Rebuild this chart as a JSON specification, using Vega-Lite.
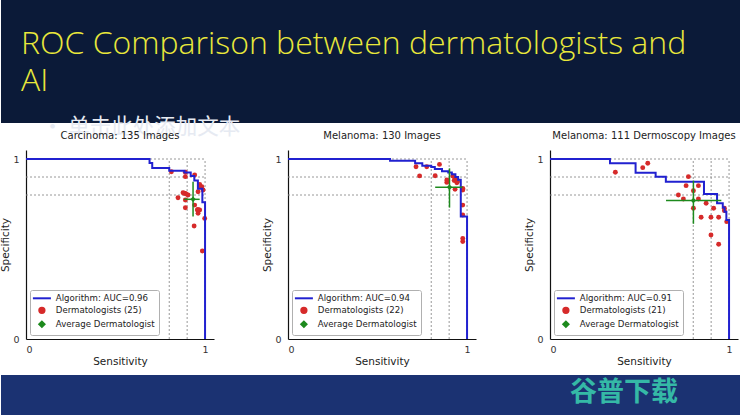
{
  "$schema": "https://vega.github.io/schema/vega-lite/v6.json",
  "background": "#ffffff",
  "padding": 0,
  "columns": 1,
  "align": "none",
  "spacing": -7,
  "config": {
    "font": "DejaVu Sans",
    "view": {"stroke": null},
    "title": {"font": "DejaVu Sans", "fontSize": 10, "fontWeight": "normal", "color": "#222222", "offset": 9, "frame": "group", "anchor": "middle"},
    "axis": {"grid": false, "ticks": false, "domainColor": "#111111", "domainWidth": 1.2, "labelFont": "DejaVu Sans", "labelFontSize": 9.5, "labelColor": "#333333", "titleFont": "DejaVu Sans", "titleFontSize": 10.5, "titleFontWeight": "normal", "titleColor": "#222222"},
    "axisX": {"labelPadding": 5, "titlePadding": 3},
    "axisY": {"labelPadding": 7, "titlePadding": 2},
    "legend": {"orient": "bottom-left", "offset": 4, "labelFont": "DejaVu Sans", "labelFontSize": 8.6, "labelColor": "#222222", "strokeColor": "#b0b0b0", "fillColor": "#ffffff", "padding": 4, "rowPadding": 0, "symbolSize": 28, "symbolOffset": 3.6, "labelOffset": 9.6, "cornerRadius": 2}
  },
  "datasets": {
    "grid": [{"v": 0.8}, {"v": 0.9}, {"v": 1.0}],
    "roc1": [
      {"i": 0, "x": 0, "y": 1}, {"i": 1, "x": 0.69, "y": 1}, {"i": 2, "x": 0.69, "y": 0.978}, {"i": 3, "x": 0.705, "y": 0.978},
      {"i": 4, "x": 0.705, "y": 0.95}, {"i": 5, "x": 0.8, "y": 0.95}, {"i": 6, "x": 0.8, "y": 0.935}, {"i": 7, "x": 0.885, "y": 0.935},
      {"i": 8, "x": 0.885, "y": 0.925}, {"i": 9, "x": 0.92, "y": 0.925}, {"i": 10, "x": 0.92, "y": 0.905}, {"i": 11, "x": 0.94, "y": 0.905},
      {"i": 12, "x": 0.94, "y": 0.88}, {"i": 13, "x": 0.96, "y": 0.88}, {"i": 14, "x": 0.96, "y": 0.835}, {"i": 15, "x": 0.985, "y": 0.835},
      {"i": 16, "x": 0.985, "y": 0.76}, {"i": 17, "x": 1.0, "y": 0.76}, {"i": 18, "x": 1.0, "y": 0}
    ],
    "dots1": [
      {"x": 0.812, "y": 0.929}, {"x": 0.89, "y": 0.926}, {"x": 0.942, "y": 0.911}, {"x": 0.89, "y": 0.902}, {"x": 0.97, "y": 0.859},
      {"x": 0.982, "y": 0.846}, {"x": 0.961, "y": 0.818}, {"x": 0.989, "y": 0.828}, {"x": 0.877, "y": 0.813}, {"x": 0.89, "y": 0.809},
      {"x": 0.905, "y": 0.8}, {"x": 0.849, "y": 0.785}, {"x": 0.89, "y": 0.772}, {"x": 0.942, "y": 0.744}, {"x": 0.89, "y": 0.729},
      {"x": 0.957, "y": 0.717}, {"x": 0.97, "y": 0.717}, {"x": 0.961, "y": 0.698}, {"x": 0.998, "y": 0.67}, {"x": 0.939, "y": 0.628},
      {"x": 0.985, "y": 0.489}, {"x": 0.882, "y": 0.81}, {"x": 0.895, "y": 0.805}, {"x": 0.97, "y": 0.85}, {"x": 0.96, "y": 0.72}
    ],
    "avg1": [{"x": 0.933, "y": 0.776, "xlo": 0.883, "xhi": 0.97, "ylo": 0.68, "yhi": 0.874}],
    "roc2": [
      {"i": 0, "x": 0, "y": 1}, {"i": 1, "x": 0.57, "y": 1}, {"i": 2, "x": 0.57, "y": 0.99}, {"i": 3, "x": 0.71, "y": 0.99},
      {"i": 4, "x": 0.71, "y": 0.976}, {"i": 5, "x": 0.75, "y": 0.976}, {"i": 6, "x": 0.75, "y": 0.963}, {"i": 7, "x": 0.8, "y": 0.963},
      {"i": 8, "x": 0.8, "y": 0.955}, {"i": 9, "x": 0.82, "y": 0.955}, {"i": 10, "x": 0.82, "y": 0.945}, {"i": 11, "x": 0.86, "y": 0.945},
      {"i": 12, "x": 0.86, "y": 0.932}, {"i": 13, "x": 0.895, "y": 0.932}, {"i": 14, "x": 0.895, "y": 0.925}, {"i": 15, "x": 0.915, "y": 0.925},
      {"i": 16, "x": 0.915, "y": 0.915}, {"i": 17, "x": 0.935, "y": 0.915}, {"i": 18, "x": 0.935, "y": 0.9}, {"i": 19, "x": 0.95, "y": 0.9},
      {"i": 20, "x": 0.95, "y": 0.885}, {"i": 21, "x": 0.965, "y": 0.885}, {"i": 22, "x": 0.965, "y": 0.68}, {"i": 23, "x": 1.0, "y": 0.68},
      {"i": 24, "x": 1.0, "y": 0}
    ],
    "dots2": [
      {"x": 0.715, "y": 0.957}, {"x": 0.775, "y": 0.957}, {"x": 0.846, "y": 0.97}, {"x": 0.735, "y": 0.906}, {"x": 0.822, "y": 0.907},
      {"x": 0.887, "y": 0.883}, {"x": 0.887, "y": 0.87}, {"x": 0.92, "y": 0.905}, {"x": 0.933, "y": 0.893}, {"x": 0.946, "y": 0.874},
      {"x": 0.933, "y": 0.832}, {"x": 0.976, "y": 0.837}, {"x": 0.976, "y": 0.828}, {"x": 0.976, "y": 0.744}, {"x": 0.976, "y": 0.689},
      {"x": 0.976, "y": 0.559}, {"x": 0.976, "y": 0.541}, {"x": 0.928, "y": 0.88}, {"x": 0.943, "y": 0.868}, {"x": 0.89, "y": 0.88},
      {"x": 0.976, "y": 0.83}, {"x": 0.945, "y": 0.875}
    ],
    "avg2": [{"x": 0.902, "y": 0.843, "xlo": 0.822, "xhi": 0.975, "ylo": 0.73, "yhi": 0.948}],
    "roc3": [
      {"i": 0, "x": 0, "y": 1}, {"i": 1, "x": 0.335, "y": 1}, {"i": 2, "x": 0.335, "y": 0.976}, {"i": 3, "x": 0.478, "y": 0.976},
      {"i": 4, "x": 0.478, "y": 0.924}, {"i": 5, "x": 0.59, "y": 0.924}, {"i": 6, "x": 0.59, "y": 0.902}, {"i": 7, "x": 0.647, "y": 0.902},
      {"i": 8, "x": 0.647, "y": 0.874}, {"i": 9, "x": 0.86, "y": 0.874}, {"i": 10, "x": 0.86, "y": 0.805}, {"i": 11, "x": 0.933, "y": 0.805},
      {"i": 12, "x": 0.933, "y": 0.754}, {"i": 13, "x": 0.965, "y": 0.754}, {"i": 14, "x": 0.965, "y": 0.73}, {"i": 15, "x": 0.975, "y": 0.73},
      {"i": 16, "x": 0.975, "y": 0.707}, {"i": 17, "x": 0.985, "y": 0.707}, {"i": 18, "x": 0.985, "y": 0.661}, {"i": 19, "x": 1.0, "y": 0.661},
      {"i": 20, "x": 1.0, "y": 0}
    ],
    "dots3": [
      {"x": 0.365, "y": 0.926}, {"x": 0.518, "y": 0.952}, {"x": 0.546, "y": 0.976}, {"x": 0.773, "y": 0.902}, {"x": 0.76, "y": 0.852},
      {"x": 0.829, "y": 0.852}, {"x": 0.801, "y": 0.824}, {"x": 0.717, "y": 0.8}, {"x": 0.745, "y": 0.778}, {"x": 0.829, "y": 0.778},
      {"x": 0.801, "y": 0.726}, {"x": 0.872, "y": 0.754}, {"x": 0.914, "y": 0.726}, {"x": 0.974, "y": 0.726}, {"x": 0.844, "y": 0.676},
      {"x": 0.899, "y": 0.676}, {"x": 0.942, "y": 0.676}, {"x": 0.899, "y": 0.578}, {"x": 0.942, "y": 0.526}, {"x": 0.987, "y": 0.652},
      {"x": 0.974, "y": 0.713}
    ],
    "avg3": [{"x": 0.801, "y": 0.77, "xlo": 0.648, "xhi": 0.957, "ylo": 0.64, "yhi": 0.88}]
  },
  "concat": [
    {
      "width": 740,
      "height": 123,
      "view": {"fill": "#0b1a38", "stroke": null},
      "title": {
        "text": ["ROC Comparison between dermatologists and", "AI"],
        "subtitle": "\u2800\u00a0• 单击此处添加文本",
        "anchor": "start", "frame": "group", "orient": "top", "offset": -139, "dx": 20,
        "font": "Open Sans", "fontSize": 32, "fontWeight": 300, "color": "#e9e83b", "lineHeight": 37,
        "subtitleFont": "Noto Sans CJK SC", "subtitleFontSize": 21.5, "subtitleColor": "#e6eaf2", "subtitlePadding": 19
      },
      "data": {"values": []},
      "mark": "point",
      "encoding": {}
    },
    {
      "columns": 1,
      "align": "none",
      "spacing": 8,
      "concat": [
        {
          "spacing": -2,
          "hconcat": [
            {"width": 1, "height": 1, "data": {"values": []}, "mark": "point", "encoding": {}},
            {
              "spacing": 48,
              "resolve": {"scale": {"color": "independent", "x": "independent", "y": "independent"}, "legend": {"color": "independent"}},
              "hconcat": [
                {
                  "width": 188, "height": 189,
                  "title": "Carcinoma: 135 Images",
                  "layer": [
                    {"data": {"name": "grid"}, "mark": {"type": "rule", "strokeDash": [2, 2], "color": "#8c8c8c", "strokeWidth": 0.9},
                     "encoding": {"x": {"field": "v", "type": "quantitative", "title": "Sensitivity", "scale": {"domain": [0, 1.05], "nice": false, "zero": false}, "axis": {"values": [0, 1], "format": "d"}},
                                  "y": {"datum": 0, "type": "quantitative", "title": "Specificity", "scale": {"domain": [0, 1.05], "nice": false, "zero": false}, "axis": {"values": [0, 1], "format": "d"}},
                                  "y2": {"datum": 1}}},
                    {"data": {"name": "grid"}, "mark": {"type": "rule", "strokeDash": [2, 2], "color": "#8c8c8c", "strokeWidth": 0.9},
                     "encoding": {"y": {"field": "v", "type": "quantitative", "title": "Specificity"},
                                  "x": {"datum": 0, "type": "quantitative", "title": "Sensitivity"},
                                  "x2": {"datum": 1}}},
                    {"data": {"name": "dots1"}, "mark": {"type": "circle", "size": 24, "opacity": 1},
                     "encoding": {"x": {"field": "x", "type": "quantitative", "title": "Sensitivity"}, "y": {"field": "y", "type": "quantitative", "title": "Specificity"},
                                  "color": {"datum": "Dermatologists (25)", "type": "nominal",
                                            "scale": {"domain": ["Algorithm: AUC=0.96", "Dermatologists (25)", "Average Dermatologist"], "range": ["#2121d0", "#d62a2a", "#1d8a1d"]},
                                            "legend": {"title": null, "encode": {"symbols": {"update": {
                                              "shape": {"signal": "['M-3.4,0H3.4','circle','diamond'][datum.index]"},
                                              "fill": {"signal": "['transparent','#d62a2a','#1d8a1d'][datum.index]"},
                                              "stroke": {"signal": "['#2121d0','transparent','transparent'][datum.index]"},
                                              "strokeWidth": {"value": 2}, "opacity": {"value": 1}}}}}}}},
                    {"data": {"name": "roc1"}, "mark": {"type": "line", "strokeWidth": 2},
                     "encoding": {"x": {"field": "x", "type": "quantitative", "title": "Sensitivity"}, "y": {"field": "y", "type": "quantitative", "title": "Specificity"},
                                  "order": {"field": "i", "type": "quantitative"},
                                  "color": {"datum": "Algorithm: AUC=0.96", "type": "nominal",
                                            "legend": {"title": null, "encode": {"symbols": {"update": {
                                              "shape": {"signal": "['M-3.4,0H3.4','circle','diamond'][datum.index]"},
                                              "fill": {"signal": "['transparent','#d62a2a','#1d8a1d'][datum.index]"},
                                              "stroke": {"signal": "['#2121d0','transparent','transparent'][datum.index]"},
                                              "strokeWidth": {"value": 2}, "opacity": {"value": 1}}}}}}}},
                    {"data": {"name": "avg1"}, "mark": {"type": "rule", "color": "#1d8a1d", "strokeWidth": 1.5},
                     "encoding": {"x": {"field": "xlo", "type": "quantitative", "title": "Sensitivity"}, "x2": {"field": "xhi"}, "y": {"field": "y", "type": "quantitative", "title": "Specificity"}}},
                    {"data": {"name": "avg1"}, "mark": {"type": "rule", "color": "#1d8a1d", "strokeWidth": 1.5},
                     "encoding": {"x": {"field": "x", "type": "quantitative", "title": "Sensitivity"}, "y": {"field": "ylo", "type": "quantitative", "title": "Specificity"}, "y2": {"field": "yhi"}}},
                    {"data": {"name": "avg1"}, "mark": {"type": "point", "shape": "diamond", "filled": true, "size": 30, "opacity": 1},
                     "encoding": {"x": {"field": "x", "type": "quantitative", "title": "Sensitivity"}, "y": {"field": "y", "type": "quantitative", "title": "Specificity"},
                                  "color": {"datum": "Average Dermatologist", "type": "nominal",
                                            "legend": {"title": null, "encode": {"symbols": {"update": {
                                              "shape": {"signal": "['M-3.4,0H3.4','circle','diamond'][datum.index]"},
                                              "fill": {"signal": "['transparent','#d62a2a','#1d8a1d'][datum.index]"},
                                              "stroke": {"signal": "['#2121d0','transparent','transparent'][datum.index]"},
                                              "strokeWidth": {"value": 2}, "opacity": {"value": 1}}}}}}}}
                  ]
                },
                {
                  "width": 188, "height": 189,
                  "title": "Melanoma: 130 Images",
                  "layer": [
                    {"data": {"name": "grid"}, "mark": {"type": "rule", "strokeDash": [2, 2], "color": "#8c8c8c", "strokeWidth": 0.9},
                     "encoding": {"x": {"field": "v", "type": "quantitative", "title": "Sensitivity", "scale": {"domain": [0, 1.05], "nice": false, "zero": false}, "axis": {"values": [0, 1], "format": "d"}},
                                  "y": {"datum": 0, "type": "quantitative", "title": "Specificity", "scale": {"domain": [0, 1.05], "nice": false, "zero": false}, "axis": {"values": [0, 1], "format": "d"}},
                                  "y2": {"datum": 1}}},
                    {"data": {"name": "grid"}, "mark": {"type": "rule", "strokeDash": [2, 2], "color": "#8c8c8c", "strokeWidth": 0.9},
                     "encoding": {"y": {"field": "v", "type": "quantitative", "title": "Specificity"},
                                  "x": {"datum": 0, "type": "quantitative", "title": "Sensitivity"},
                                  "x2": {"datum": 1}}},
                    {"data": {"name": "dots2"}, "mark": {"type": "circle", "size": 24, "opacity": 1},
                     "encoding": {"x": {"field": "x", "type": "quantitative", "title": "Sensitivity"}, "y": {"field": "y", "type": "quantitative", "title": "Specificity"},
                                  "color": {"datum": "Dermatologists (22)", "type": "nominal",
                                            "scale": {"domain": ["Algorithm: AUC=0.94", "Dermatologists (22)", "Average Dermatologist"], "range": ["#2121d0", "#d62a2a", "#1d8a1d"]},
                                            "legend": {"title": null, "encode": {"symbols": {"update": {
                                              "shape": {"signal": "['M-3.4,0H3.4','circle','diamond'][datum.index]"},
                                              "fill": {"signal": "['transparent','#d62a2a','#1d8a1d'][datum.index]"},
                                              "stroke": {"signal": "['#2121d0','transparent','transparent'][datum.index]"},
                                              "strokeWidth": {"value": 2}, "opacity": {"value": 1}}}}}}}},
                    {"data": {"name": "roc2"}, "mark": {"type": "line", "strokeWidth": 2},
                     "encoding": {"x": {"field": "x", "type": "quantitative", "title": "Sensitivity"}, "y": {"field": "y", "type": "quantitative", "title": "Specificity"},
                                  "order": {"field": "i", "type": "quantitative"},
                                  "color": {"datum": "Algorithm: AUC=0.94", "type": "nominal",
                                            "legend": {"title": null, "encode": {"symbols": {"update": {
                                              "shape": {"signal": "['M-3.4,0H3.4','circle','diamond'][datum.index]"},
                                              "fill": {"signal": "['transparent','#d62a2a','#1d8a1d'][datum.index]"},
                                              "stroke": {"signal": "['#2121d0','transparent','transparent'][datum.index]"},
                                              "strokeWidth": {"value": 2}, "opacity": {"value": 1}}}}}}}},
                    {"data": {"name": "avg2"}, "mark": {"type": "rule", "color": "#1d8a1d", "strokeWidth": 1.5},
                     "encoding": {"x": {"field": "xlo", "type": "quantitative", "title": "Sensitivity"}, "x2": {"field": "xhi"}, "y": {"field": "y", "type": "quantitative", "title": "Specificity"}}},
                    {"data": {"name": "avg2"}, "mark": {"type": "rule", "color": "#1d8a1d", "strokeWidth": 1.5},
                     "encoding": {"x": {"field": "x", "type": "quantitative", "title": "Sensitivity"}, "y": {"field": "ylo", "type": "quantitative", "title": "Specificity"}, "y2": {"field": "yhi"}}},
                    {"data": {"name": "avg2"}, "mark": {"type": "point", "shape": "diamond", "filled": true, "size": 30, "opacity": 1},
                     "encoding": {"x": {"field": "x", "type": "quantitative", "title": "Sensitivity"}, "y": {"field": "y", "type": "quantitative", "title": "Specificity"},
                                  "color": {"datum": "Average Dermatologist", "type": "nominal",
                                            "legend": {"title": null, "encode": {"symbols": {"update": {
                                              "shape": {"signal": "['M-3.4,0H3.4','circle','diamond'][datum.index]"},
                                              "fill": {"signal": "['transparent','#d62a2a','#1d8a1d'][datum.index]"},
                                              "stroke": {"signal": "['#2121d0','transparent','transparent'][datum.index]"},
                                              "strokeWidth": {"value": 2}, "opacity": {"value": 1}}}}}}}}
                  ]
                },
                {
                  "width": 188, "height": 189,
                  "title": "Melanoma: 111 Dermoscopy Images",
                  "layer": [
                    {"data": {"name": "grid"}, "mark": {"type": "rule", "strokeDash": [2, 2], "color": "#8c8c8c", "strokeWidth": 0.9},
                     "encoding": {"x": {"field": "v", "type": "quantitative", "title": "Sensitivity", "scale": {"domain": [0, 1.05], "nice": false, "zero": false}, "axis": {"values": [0, 1], "format": "d"}},
                                  "y": {"datum": 0, "type": "quantitative", "title": "Specificity", "scale": {"domain": [0, 1.05], "nice": false, "zero": false}, "axis": {"values": [0, 1], "format": "d"}},
                                  "y2": {"datum": 1}}},
                    {"data": {"name": "grid"}, "mark": {"type": "rule", "strokeDash": [2, 2], "color": "#8c8c8c", "strokeWidth": 0.9},
                     "encoding": {"y": {"field": "v", "type": "quantitative", "title": "Specificity"},
                                  "x": {"datum": 0, "type": "quantitative", "title": "Sensitivity"},
                                  "x2": {"datum": 1}}},
                    {"data": {"name": "dots3"}, "mark": {"type": "circle", "size": 24, "opacity": 1},
                     "encoding": {"x": {"field": "x", "type": "quantitative", "title": "Sensitivity"}, "y": {"field": "y", "type": "quantitative", "title": "Specificity"},
                                  "color": {"datum": "Dermatologists (21)", "type": "nominal",
                                            "scale": {"domain": ["Algorithm: AUC=0.91", "Dermatologists (21)", "Average Dermatologist"], "range": ["#2121d0", "#d62a2a", "#1d8a1d"]},
                                            "legend": {"title": null, "encode": {"symbols": {"update": {
                                              "shape": {"signal": "['M-3.4,0H3.4','circle','diamond'][datum.index]"},
                                              "fill": {"signal": "['transparent','#d62a2a','#1d8a1d'][datum.index]"},
                                              "stroke": {"signal": "['#2121d0','transparent','transparent'][datum.index]"},
                                              "strokeWidth": {"value": 2}, "opacity": {"value": 1}}}}}}}},
                    {"data": {"name": "roc3"}, "mark": {"type": "line", "strokeWidth": 2},
                     "encoding": {"x": {"field": "x", "type": "quantitative", "title": "Sensitivity"}, "y": {"field": "y", "type": "quantitative", "title": "Specificity"},
                                  "order": {"field": "i", "type": "quantitative"},
                                  "color": {"datum": "Algorithm: AUC=0.91", "type": "nominal",
                                            "legend": {"title": null, "encode": {"symbols": {"update": {
                                              "shape": {"signal": "['M-3.4,0H3.4','circle','diamond'][datum.index]"},
                                              "fill": {"signal": "['transparent','#d62a2a','#1d8a1d'][datum.index]"},
                                              "stroke": {"signal": "['#2121d0','transparent','transparent'][datum.index]"},
                                              "strokeWidth": {"value": 2}, "opacity": {"value": 1}}}}}}}},
                    {"data": {"name": "avg3"}, "mark": {"type": "rule", "color": "#1d8a1d", "strokeWidth": 1.5},
                     "encoding": {"x": {"field": "xlo", "type": "quantitative", "title": "Sensitivity"}, "x2": {"field": "xhi"}, "y": {"field": "y", "type": "quantitative", "title": "Specificity"}}},
                    {"data": {"name": "avg3"}, "mark": {"type": "rule", "color": "#1d8a1d", "strokeWidth": 1.5},
                     "encoding": {"x": {"field": "x", "type": "quantitative", "title": "Sensitivity"}, "y": {"field": "ylo", "type": "quantitative", "title": "Specificity"}, "y2": {"field": "yhi"}}},
                    {"data": {"name": "avg3"}, "mark": {"type": "point", "shape": "diamond", "filled": true, "size": 30, "opacity": 1},
                     "encoding": {"x": {"field": "x", "type": "quantitative", "title": "Sensitivity"}, "y": {"field": "y", "type": "quantitative", "title": "Specificity"},
                                  "color": {"datum": "Average Dermatologist", "type": "nominal",
                                            "legend": {"title": null, "encode": {"symbols": {"update": {
                                              "shape": {"signal": "['M-3.4,0H3.4','circle','diamond'][datum.index]"},
                                              "fill": {"signal": "['transparent','#d62a2a','#1d8a1d'][datum.index]"},
                                              "stroke": {"signal": "['#2121d0','transparent','transparent'][datum.index]"},
                                              "strokeWidth": {"value": 2}, "opacity": {"value": 1}}}}}}}}
                  ]
                }
              ]
            }
          ]
        },
        {
          "width": 740,
          "height": 41,
          "view": {"fill": "#1b3272", "stroke": null},
          "title": {"text": "谷普下载", "anchor": "end", "frame": "group", "orient": "bottom", "offset": -36, "dx": -63,
                    "font": "Noto Sans CJK SC", "fontSize": 27, "fontWeight": "bold", "color": "#35b9a6"},
          "data": {"values": []},
          "mark": "point",
          "encoding": {}
        }
      ]
    }
  ]
}
